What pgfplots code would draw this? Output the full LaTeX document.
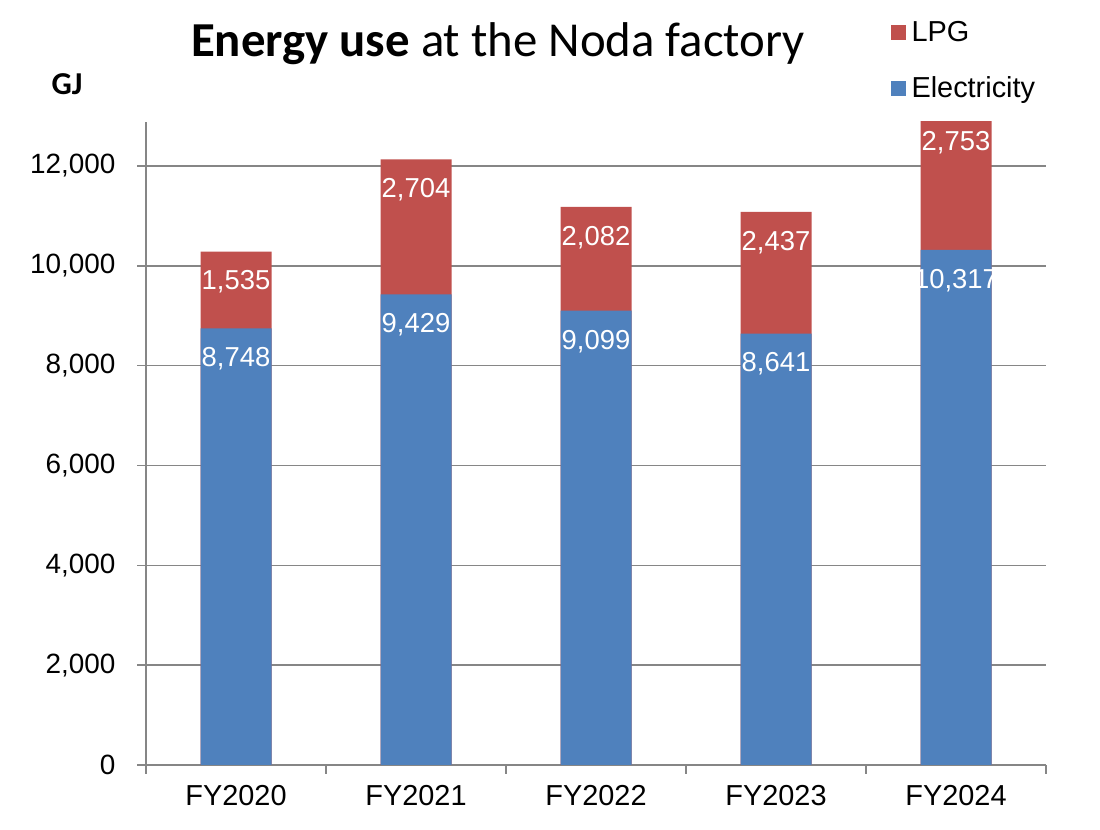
\documentclass[border=0pt]{standalone}
\usepackage{fontspec}
\setmainfont{Liberation Sans}
\newfontfamily\carlito{Carlito}
\usepackage{pgfplots}
\pgfplotsset{compat=1.18}
\definecolor{elec}{RGB}{79,129,189}
\definecolor{lpg}{RGB}{192,80,77}
\definecolor{gridc}{RGB}{134,134,134}
\begin{document}
\begin{tikzpicture}[x=1bp,y=1bp]
  \useasboundingbox (0,0) rectangle (1100,830);
  \begin{axis}[at={(146bp,65bp)}, anchor=south west, scale only axis,
      width=900bp, height=643bp,
      xmin=-0.5, xmax=4.5, ymin=0, ymax=12880,
      axis lines=left, axis line style={-, gridc, line width=1.6bp},
      tick style={gridc, line width=1.6bp}, tick align=outside, major tick length=9bp,
      xtick={-0.5,0.5,...,4.5}, xticklabels={},
      extra x ticks={0,1,2,3,4},
      extra x tick labels={FY2020,FY2021,FY2022,FY2023,FY2024},
      extra x tick style={major tick length=0pt, grid=none,
        xticklabel style={font=\fontsize{29}{31}\selectfont, yshift=-17bp}},
      ytick={0,2000,...,12000}, scaled y ticks=false,
      ymajorgrids, grid style={gridc, line width=1.6bp},
      yticklabel style={font=\fontsize{28}{30}\selectfont, xshift=-18bp},
      /pgf/number format/assume math mode=true,
      legend style={at={(0.827,1.16)}, anchor=north west, draw=none, fill=none,
        inner sep=0pt, row sep=30bp, font=\fontsize{29}{31}\selectfont,
        /tikz/every odd column/.append style={column sep=4bp}},
      legend cell align=left,
      label/.style={draw=none, mark=none, forget plot, nodes near coords, point meta=explicit,
        every node near coord/.append style={anchor=north, white, inner sep=0pt,
          font=\fontsize{27.5}{29}\selectfont}},
    ]
    % bars: LPG drawn as the full stack, electricity over it
    \addplot[ybar, bar width=71bp, bar shift=0pt, fill=lpg, draw=none,
      legend image code/.code={\fill[lpg] (0bp,-7.5bp) rectangle (15bp,7.5bp);}]
      coordinates {(0,10283) (1,12133) (2,11181) (3,11078) (4,13070)};
    \addplot[ybar, bar width=71bp, bar shift=0pt, fill=elec, draw=none,
      legend image code/.code={\fill[elec] (0bp,-7.5bp) rectangle (15bp,7.5bp);}]
      coordinates {(0,8748) (1,9429) (2,9099) (3,8641) (4,10317)};
    \legend{LPG, Electricity}
    % value labels, text top set about 380 GJ below each segment top
    \addplot[label] coordinates {(0,8368)[8748] (1,9049)[9429] (2,8719)[9099] (3,8261)[8641] (4,9937)[10317]};
    \addplot[label] coordinates {(0,9903)[1535] (1,11753)[2704] (2,10801)[2082] (3,10698)[2437] (4,12690)[2753]};
  \end{axis}
  \node[anchor=base] at (498,773) {\carlito\fontsize{49}{52}\selectfont\textbf{Energy use} at the Noda factory};
  \node[anchor=base] at (67,735) {\carlito\fontsize{32}{34}\selectfont\textbf{GJ}};
\end{tikzpicture}
\end{document}
